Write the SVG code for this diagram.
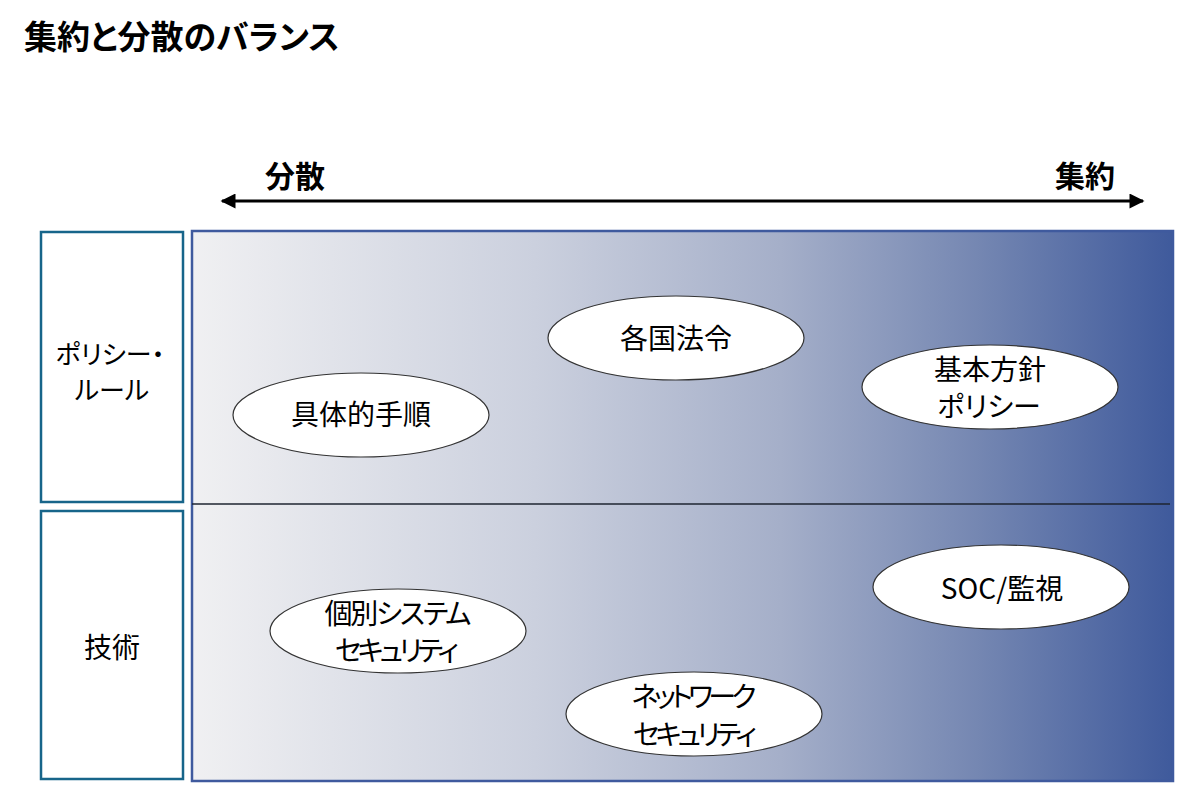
<svg xmlns="http://www.w3.org/2000/svg" width="1200" height="800" viewBox="0 0 1200 800">
  <style>
    text { font-family: "Noto Sans CJK JP", "Noto Sans", sans-serif; fill: #000; font-feature-settings: "palt"; dominant-baseline: central; text-anchor: middle; }
    .title { font-size: 33px; font-weight: bold; text-anchor: start; }
    .axis { font-size: 30px; font-weight: bold; }
    .lbl { font-size: 28px; }
    .side { fill: #fff; stroke: #17658A; stroke-width: 2.5; }
    .oval { fill: #fff; stroke: #333; stroke-width: 1.2; }
  </style>
  <defs>
    <linearGradient id="bg" x1="0" y1="0" x2="1" y2="0">
      <stop offset="0" stop-color="#F0F0F2"/>
      <stop offset="0.35" stop-color="#CBD0DE"/>
      <stop offset="0.6" stop-color="#A5AFC9"/>
      <stop offset="0.8" stop-color="#7587B2"/>
      <stop offset="1" stop-color="#3F5A9C"/>
    </linearGradient>
    <marker id="ah" viewBox="0 0 10 10" refX="9" refY="5" markerWidth="5.5" markerHeight="5" orient="auto-start-reverse" markerUnits="strokeWidth">
      <path d="M0,0 L10,5 L0,10 z" fill="#000"/>
    </marker>
  </defs>

  <rect width="1200" height="800" fill="#fff"/>

  <text class="title" x="24" y="35">集約と分散のバランス</text>

  <g id="axis">
    <line x1="222" y1="201" x2="1143" y2="201" stroke="#000" stroke-width="3" marker-start="url(#ah)" marker-end="url(#ah)"/>
    <text class="axis" x="295" y="174">分散</text>
    <text class="axis" x="1085" y="174">集約</text>
  </g>

  <g id="panel">
    <rect x="192" y="231" width="981" height="550" fill="url(#bg)" stroke="#3F5A9E" stroke-width="2.5"/>
    <line x1="192" y1="504" x2="1170" y2="504" stroke="#1E2430" stroke-width="1.5"/>
  </g>

  <g id="row-policy">
    <rect class="side" x="41" y="232" width="142" height="270"/>
    <text class="lbl" style="font-size:26px"><tspan x="110" y="352">ポリシー・</tspan><tspan x="112" y="388">ルール</tspan></text>
  </g>
  <g id="row-tech">
    <rect class="side" x="41" y="511" width="142" height="268"/>
    <text class="lbl" x="112" y="646">技術</text>
  </g>

  <g id="n-kakkoku">
    <ellipse class="oval" cx="676" cy="338" rx="128" ry="42"/>
    <text class="lbl" x="676" y="337">各国法令</text>
  </g>
  <g id="n-gutai">
    <ellipse class="oval" cx="361" cy="415" rx="128" ry="42"/>
    <text class="lbl" x="361" y="413">具体的手順</text>
  </g>
  <g id="n-kihon">
    <ellipse class="oval" cx="990" cy="387" rx="128" ry="42"/>
    <text class="lbl"><tspan x="990" y="368">基本方針</tspan><tspan x="989" y="405">ポリシー</tspan></text>
  </g>
  <g id="n-soc">
    <ellipse class="oval" cx="1001" cy="587" rx="128" ry="42"/>
    <text class="lbl" x="1002" y="587">SOC/監視</text>
  </g>
  <g id="n-kobetsu">
    <ellipse class="oval" cx="398" cy="631" rx="128" ry="42"/>
    <text class="lbl"><tspan x="398" y="612" textLength="147" lengthAdjust="spacing">個別システム</tspan><tspan x="397" y="649" textLength="124" lengthAdjust="spacing">セキュリティ</tspan></text>
  </g>
  <g id="n-network">
    <ellipse class="oval" cx="694" cy="714" rx="128" ry="42"/>
    <text class="lbl"><tspan x="694" y="695" textLength="125" lengthAdjust="spacing">ネットワーク</tspan><tspan x="695" y="733" textLength="124" lengthAdjust="spacing">セキュリティ</tspan></text>
  </g>

  <g id="connectors"></g>
</svg>
